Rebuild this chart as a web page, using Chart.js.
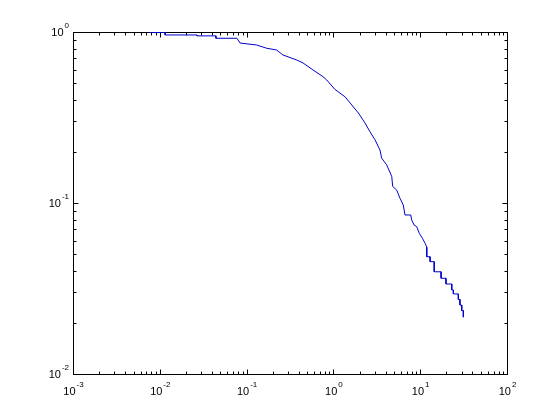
<!DOCTYPE html>
<html>
<head>
<meta charset="utf-8">
<script src="https://cdn.jsdelivr.net/npm/chart.js@4/dist/chart.umd.min.js"></script>
<style>
  body { margin: 0; background: #fff; }
  canvas { display: block; }
</style>
</head>
<body>
<canvas id="plot" width="560" height="420"></canvas>
<script>
// survival curve (x, y pairs; corners kept where the stairs are visible)
var xVals = [0.0077, 0.0115, 0.0115, 0.0268, 0.0268, 0.0443, 0.0443, 0.0774, 0.084, 0.131,
  0.171, 0.222, 0.262, 0.378, 0.447, 0.582, 0.759, 0.838, 1.04, 1.36,
  1.63, 1.94, 2.31, 2.64, 3.02, 3.44, 3.60, 4.11, 4.70, 4.82,
  5.36, 5.85, 6.38, 6.68, 7.78, 7.98, 8.49, 9.12, 9.77, 10.6,
  11.4, 11.9, 11.9, 13.0, 13.0, 14.5, 14.5, 17.4, 17.4, 19.8,
  19.8, 23.1, 23.1, 24.1, 24.1, 27.5, 27.5, 28.7, 28.7, 30.1,
  30.1, 31.4, 31.4]
var yVals = [0.993, 0.993, 0.961, 0.961, 0.949, 0.949, 0.919, 0.919, 0.862, 0.839,
  0.803, 0.785, 0.734, 0.686, 0.659, 0.600, 0.548, 0.524, 0.462, 0.418,
  0.374, 0.336, 0.294, 0.261, 0.234, 0.204, 0.183, 0.167, 0.143, 0.125,
  0.119, 0.1066, 0.0973, 0.0851, 0.0851, 0.0796, 0.0744, 0.0727, 0.0665, 0.0622,
  0.0581, 0.0551, 0.0485, 0.0485, 0.0454, 0.0454, 0.0396, 0.0396, 0.0363, 0.0363,
  0.0336, 0.0336, 0.0310, 0.0310, 0.0294, 0.0294, 0.0273, 0.0273, 0.0253, 0.0253,
  0.0235, 0.0235, 0.0215]

var xExps = [-3, -2, -1, 0, 1, 2]
var yExps = [-2, -1, 0]

var points = xVals.map(function(x, i) { return { x: x, y: yVals[i] } })

// matlab style box: ticks inside on all four sides, 10^n labels
var matlabAxes = {
  id: 'matlabAxes',
  beforeDatasetsDraw: function(chart) {
    var ctx = chart.ctx
    var a = chart.chartArea
    var xs = chart.scales.x, ys = chart.scales.y
    var L = Math.round(a.left) + 0.5, R = Math.round(a.right) + 0.5
    var T = Math.round(a.top) + 0.5, B = Math.round(a.bottom) + 0.5

    ctx.save()
    ctx.strokeStyle = '#000'
    ctx.lineWidth = 1
    ctx.strokeRect(L, T, R - L, B - T)

    ctx.beginPath()
    xExps.forEach(function(e) {
      for (var m = 1; m <= 9; m++) {
        var v = m * Math.pow(10, e)
        if (v > xs.max * 1.0001) break
        var px = Math.round(xs.getPixelForValue(v)) + 0.5
        var len = m === 1 ? 5 : 3
        ctx.moveTo(px, B); ctx.lineTo(px, B - len)
        ctx.moveTo(px, T); ctx.lineTo(px, T + len)
      }
    })
    yExps.forEach(function(e) {
      for (var m = 1; m <= 9; m++) {
        var v = m * Math.pow(10, e)
        if (v > ys.max * 1.0001) break
        var py = Math.round(ys.getPixelForValue(v)) + 0.5
        var len = m === 1 ? 5 : 3
        ctx.moveTo(L, py); ctx.lineTo(L + len, py)
        ctx.moveTo(R, py); ctx.lineTo(R - len, py)
      }
    })
    ctx.stroke()

    var big = '11px "Liberation Sans", Arial, sans-serif'
    var small = '8px "Liberation Sans", Arial, sans-serif'
    ctx.fillStyle = '#000'
    ctx.textBaseline = 'alphabetic'
    ctx.textAlign = 'left'

    xExps.forEach(function(e) {
      var px = xs.getPixelForValue(Math.pow(10, e))
      ctx.font = big
      var w1 = ctx.measureText('10').width
      ctx.font = small
      var w2 = ctx.measureText(String(e)).width
      var x0 = px - (w1 + w2) / 2
      ctx.font = big
      ctx.fillText('10', x0, 395)
      ctx.font = small
      ctx.fillText(String(e), x0 + w1 + 1, 387)
    })

    yExps.forEach(function(e) {
      var py = ys.getPixelForValue(Math.pow(10, e))
      ctx.font = small
      var w2 = ctx.measureText(String(e)).width
      ctx.font = big
      var w1 = ctx.measureText('10').width
      var x0 = a.left - 4 - w2 - 1 - w1
      ctx.fillText('10', x0, py + 4)
      ctx.font = small
      ctx.fillText(String(e), x0 + w1 + 1, py - 4)
    })
    ctx.restore()
  }
}

var ctx = document.getElementById('plot')
var chart = new Chart(ctx, {
  type: 'line',
  data: {
    datasets: [{
      data: points,
      borderColor: '#0000cc',
      borderWidth: 1,
      pointRadius: 0,
      fill: false,
      tension: 0
    }]
  },
  options: {
    responsive: false,
    animation: false,
    layout: { padding: { left: 73, right: 53, top: 32, bottom: 46 } },
    plugins: { legend: { display: false }, tooltip: { enabled: false } },
    scales: {
      x: { type: 'logarithmic', min: 0.001, max: 100, display: false },
      y: { type: 'logarithmic', min: 0.01, max: 1, display: false }
    }
  },
  plugins: [matlabAxes]
})
</script>
</body>
</html>
